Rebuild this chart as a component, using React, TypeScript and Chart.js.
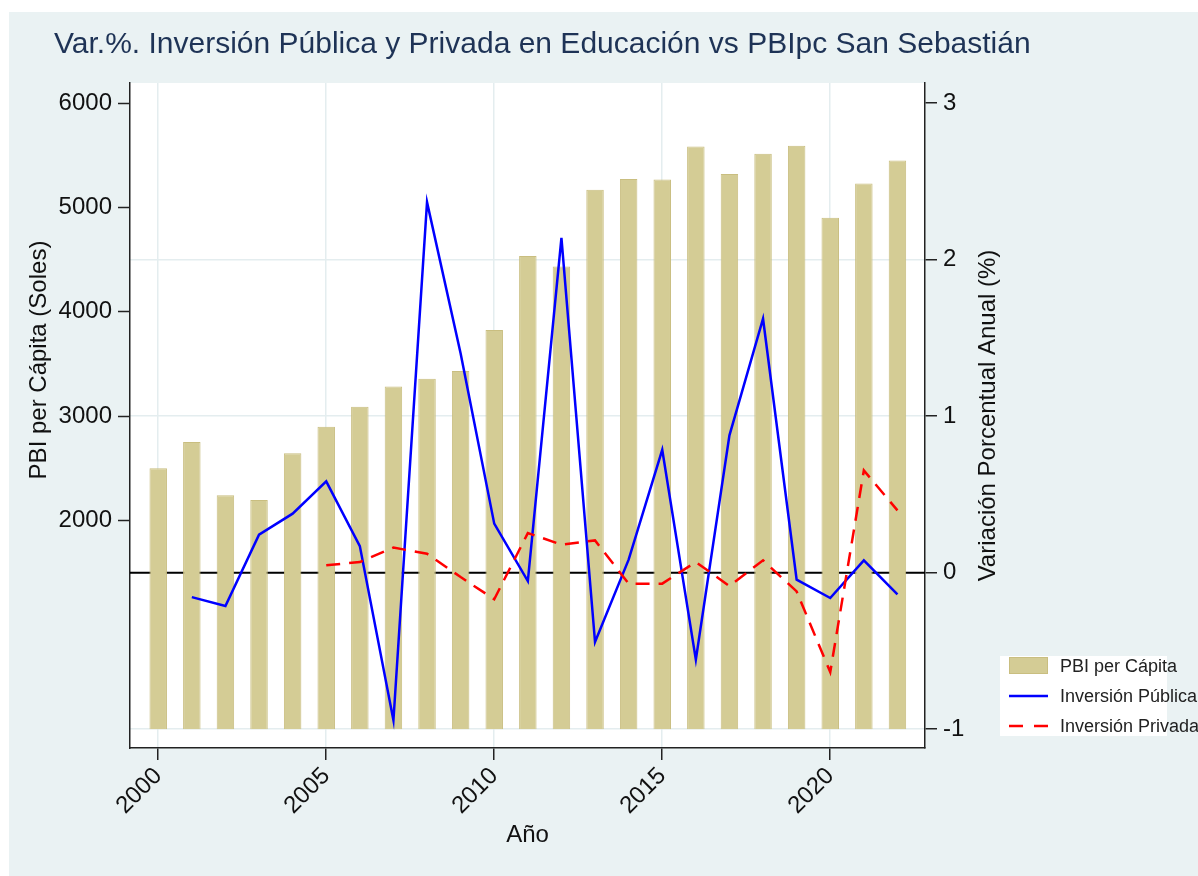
import React, { useEffect, useRef } from 'react';
import { Chart, registerables } from 'chart.js';

Chart.register(...registerables);

const years = [2000, 2001, 2002, 2003, 2004, 2005, 2006, 2007, 2008, 2009, 2010, 2011, 2012, 2013, 2014, 2015, 2016, 2017, 2018, 2019, 2020, 2021, 2022];
const pbiPerCapita = [2500, 2752, 2242, 2197, 2644, 2899, 3091, 3283, 3357, 3433, 3826, 4535, 4433, 5168, 5273, 5267, 5583, 5321, 5513, 5590, 4900, 5229, 5449];
const inversionPublica = [null, -0.156, -0.213, 0.243, 0.377, 0.583, 0.17, -0.943, 2.367, 1.4, 0.313, -0.054, 2.139, -0.443, 0.083, 0.785, -0.556, 0.877, 1.622, -0.045, -0.162, 0.079, -0.139];
const inversionPrivada = [null, null, null, null, null, 0.047, 0.068, 0.16, 0.121, -0.028, -0.17, 0.253, 0.179, 0.206, -0.07, -0.07, 0.068, -0.086, 0.079, -0.12, -0.635, 0.653, 0.398];

const xTickValues = [2000, 2005, 2010, 2015, 2020];
const leftTickValues = [2000, 3000, 4000, 5000, 6000];
const rightTickValues = [-1, 0, 1, 2, 3];

const seriesLabels = ['PBI per Cápita', 'Inversión Pública', 'Inversión Privada'];
const titleText = 'Var.%. Inversión Pública y Privada en Educación vs PBIpc San Sebastián';
const xTitle = 'Año';
const leftTitle = 'PBI per Cápita (Soles)';
const rightTitle = 'Variación Porcentual Anual (%)';

const X_MIN = 1999.16;
const X_MAX = 2022.82;
const R_MIN = -1.12;
const R_MAX = 3.128;
const L_MIN = (R_MIN + 1) * 1500;
const L_MAX = (R_MAX + 1) * 1500;

const FONT = "'Liberation Sans', Arial, Helvetica, sans-serif";
const BG = '#eaf2f3';
const GRID = '#e4edef';
const AXIS = '#222222';
const BAR_FILL = '#d4cc95';
const BAR_BORDER = '#c9be80';
const BLUE = '#0000ff';
const RED = '#ff0000';
const RED_DASH = [14, 9];

const W = 1189;
const H = 864;

const decorPlugin = {
  id: 'decor',
  beforeDraw(chart: any) {
    const { ctx, chartArea: a } = chart;
    ctx.save();
    ctx.fillStyle = BG;
    ctx.fillRect(0, 0, chart.width, chart.height);
    ctx.fillStyle = '#ffffff';
    ctx.fillRect(a.left, a.top, a.right - a.left, a.bottom - a.top);
    ctx.restore();
  },
  beforeDatasetsDraw(chart: any) {
    const { ctx, chartArea: a } = chart;
    const y = chart.scales.y1.getPixelForValue(0);
    ctx.save();
    ctx.strokeStyle = '#000000';
    ctx.lineWidth = 2;
    ctx.beginPath();
    ctx.moveTo(a.left, y);
    ctx.lineTo(a.right, y);
    ctx.stroke();
    ctx.restore();
  },
  afterDraw(chart: any) {
    const { ctx, chartArea: a } = chart;
    ctx.save();
    // main title
    ctx.fillStyle = '#1e3356';
    ctx.font = `30px ${FONT}`;
    ctx.textAlign = 'left';
    ctx.textBaseline = 'alphabetic';
    ctx.fillText(titleText, 45, 41);

    // axis titles
    ctx.fillStyle = '#111111';
    ctx.font = `24px ${FONT}`;
    ctx.textAlign = 'center';
    ctx.fillText(xTitle, (a.left + a.right) / 2, 830);

    ctx.textBaseline = 'middle';
    ctx.save();
    ctx.translate(30, 348);
    ctx.rotate(-Math.PI / 2);
    ctx.fillText(leftTitle, 0, 0);
    ctx.restore();

    ctx.save();
    ctx.translate(979, (a.top + a.bottom) / 2);
    ctx.rotate(-Math.PI / 2);
    ctx.fillText(rightTitle, 0, 0);
    ctx.restore();

    // legend
    const ds = chart.data.datasets;
    ctx.fillStyle = '#ffffff';
    ctx.fillRect(991, 644, 167, 80);
    const sx = 1000;
    const sw = 39;
    const tx = 1051;
    const rows = [654, 684, 714];
    ctx.fillStyle = BAR_FILL;
    ctx.fillRect(sx, rows[0] - 9, sw, 17);
    ctx.strokeStyle = BAR_BORDER;
    ctx.lineWidth = 1;
    ctx.strokeRect(sx + 0.5, rows[0] - 8.5, sw - 1, 16);

    ctx.lineWidth = 2.5;
    ctx.strokeStyle = BLUE;
    ctx.beginPath();
    ctx.moveTo(sx, rows[1]);
    ctx.lineTo(sx + sw, rows[1]);
    ctx.stroke();

    ctx.strokeStyle = RED;
    ctx.setLineDash([14, 11]);
    ctx.beginPath();
    ctx.moveTo(sx, rows[2]);
    ctx.lineTo(sx + sw, rows[2]);
    ctx.stroke();
    ctx.setLineDash([]);

    ctx.fillStyle = '#222222';
    ctx.font = `18px ${FONT}`;
    ctx.textAlign = 'left';
    ctx.textBaseline = 'middle';
    for (let i = 0; i < 3; i++) {
      ctx.fillText(ds[i].label, tx, rows[i] + 1);
    }
    ctx.restore();
  },
};

export default function App() {
  const ref = useRef<HTMLCanvasElement | null>(null);

  useEffect(() => {
    const canvas = ref.current;
    if (!canvas) return;
    const chart = new Chart(canvas, {
      type: 'bar',
      data: {
        datasets: [
          {
            type: 'bar',
            label: seriesLabels[0],
            data: years.map((x, i) => ({ x, y: pbiPerCapita[i] })),
            backgroundColor: BAR_FILL,
            borderColor: BAR_BORDER,
            borderWidth: 1,
            barPercentage: 0.52,
            categoryPercentage: 1,
            yAxisID: 'y',
            order: 3,
          },
          {
            type: 'line',
            label: seriesLabels[1],
            data: years.map((x, i) => ({ x, y: inversionPublica[i] })),
            borderColor: BLUE,
            borderWidth: 2.5,
            pointRadius: 0,
            fill: false,
            tension: 0,
            yAxisID: 'y1',
            order: 2,
          },
          {
            type: 'line',
            label: seriesLabels[2],
            data: years.map((x, i) => ({ x, y: inversionPrivada[i] })),
            borderColor: RED,
            borderWidth: 2.5,
            borderDash: RED_DASH,
            pointRadius: 0,
            fill: false,
            tension: 0,
            yAxisID: 'y1',
            order: 1,
          },
        ],
      } as any,
      options: {
        responsive: false,
        animation: false,
        devicePixelRatio: 1,
        layout: { padding: { top: 71, left: 0, right: 193, bottom: 18 } },
        plugins: {
          legend: { display: false },
          title: { display: false },
          tooltip: { enabled: false },
        },
        scales: {
          x: {
            type: 'linear',
            position: 'bottom',
            min: X_MIN,
            max: X_MAX,
            offset: false,
            afterBuildTicks: (axis: any) => {
              axis.ticks = xTickValues.map((v) => ({ value: v }));
            },
            afterFit: (axis: any) => {
              axis.height = 110;
            },
            ticks: {
              autoSkip: false,
              maxRotation: 45,
              minRotation: 45,
              padding: 2,
              color: '#111111',
              font: { family: FONT, size: 24 },
              callback: (v: any) => String(v),
            },
            grid: {
              offset: false,
              color: GRID,
              lineWidth: 1.5,
              drawTicks: true,
              tickLength: 12,
              tickColor: AXIS,
              tickWidth: 1.5,
            },
            border: { display: true, color: AXIS, width: 1.5 },
          },
          y: {
            type: 'linear',
            position: 'left',
            min: L_MIN,
            max: L_MAX,
            afterBuildTicks: (axis: any) => {
              axis.ticks = leftTickValues.map((v) => ({ value: v }));
            },
            afterFit: (axis: any) => {
              axis.width = 121;
            },
            ticks: {
              padding: 6,
              color: '#111111',
              font: { family: FONT, size: 24 },
              callback: (v: any) => String(v),
            },
            grid: {
              drawOnChartArea: false,
              drawTicks: true,
              tickLength: 12,
              tickColor: AXIS,
              tickWidth: 1.5,
            },
            border: { display: true, color: AXIS, width: 1.5 },
          },
          y1: {
            type: 'linear',
            position: 'right',
            min: R_MIN,
            max: R_MAX,
            afterBuildTicks: (axis: any) => {
              axis.ticks = rightTickValues.map((v) => ({ value: v }));
            },
            afterFit: (axis: any) => {
              axis.width = 80;
            },
            ticks: {
              padding: 6,
              color: '#111111',
              font: { family: FONT, size: 24 },
              callback: (v: any) => String(v),
            },
            grid: {
              drawOnChartArea: true,
              color: (c: any) => (c.tick && c.tick.value === 3 ? 'rgba(0,0,0,0)' : GRID),
              lineWidth: 1.5,
              drawTicks: true,
              tickLength: 12,
              tickColor: AXIS,
              tickWidth: 1.5,
            },
            border: { display: true, color: AXIS, width: 1.5 },
          },
        },
      } as any,
      plugins: [decorPlugin],
    });
    return () => chart.destroy();
  }, []);

  return (
    <div style={{ position: 'fixed', left: 9, top: 12, width: W, height: H, background: BG }}>
      <canvas ref={ref} width={W} height={H} style={{ display: 'block', width: W, height: H }} />
    </div>
  );
}
